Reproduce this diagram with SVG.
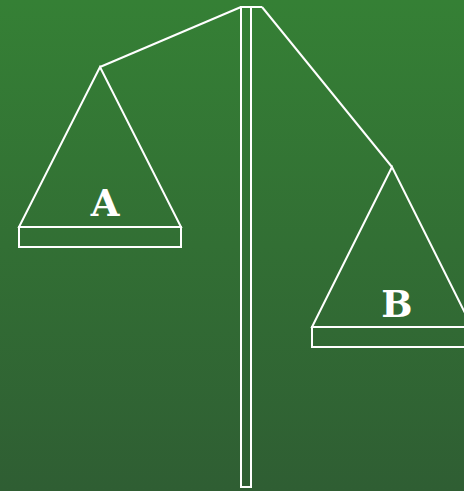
<svg xmlns="http://www.w3.org/2000/svg" width="464" height="491" viewBox="0 0 464 491">
<defs>
<linearGradient id="bg" x1="0" y1="0" x2="0" y2="1">
<stop offset="0" stop-color="#358035"/>
<stop offset="1" stop-color="#2f5e33"/>
</linearGradient>
</defs>
<style>
.s{fill:none;stroke:#ffffff;stroke-width:2}
.t{fill:#ffffff;font-family:"DejaVu Serif",serif;font-weight:bold;font-size:37px;text-anchor:middle}
</style>
<rect x="0" y="0" width="464" height="491" fill="url(#bg)"/>
<g id="pole">
<rect class="s" x="241" y="7" width="10" height="480"/>
<line class="s" x1="241" y1="7" x2="262" y2="7"/>
</g>
<g id="connectors">
<line class="s" x1="241" y1="7" x2="100" y2="67"/>
<line class="s" x1="262" y1="7" x2="392" y2="167"/>
</g>
<g id="panA">
<polygon class="s" points="100,67 19,227 181,227"/>
<rect class="s" x="19" y="227" width="162" height="20"/>
<text class="t" x="105" y="216">A</text>
</g>
<g id="panB">
<polygon class="s" points="392,167 312,327 472,327"/>
<rect class="s" x="312" y="327" width="160" height="20"/>
<text class="t" x="397" y="317">B</text>
</g>
</svg>
